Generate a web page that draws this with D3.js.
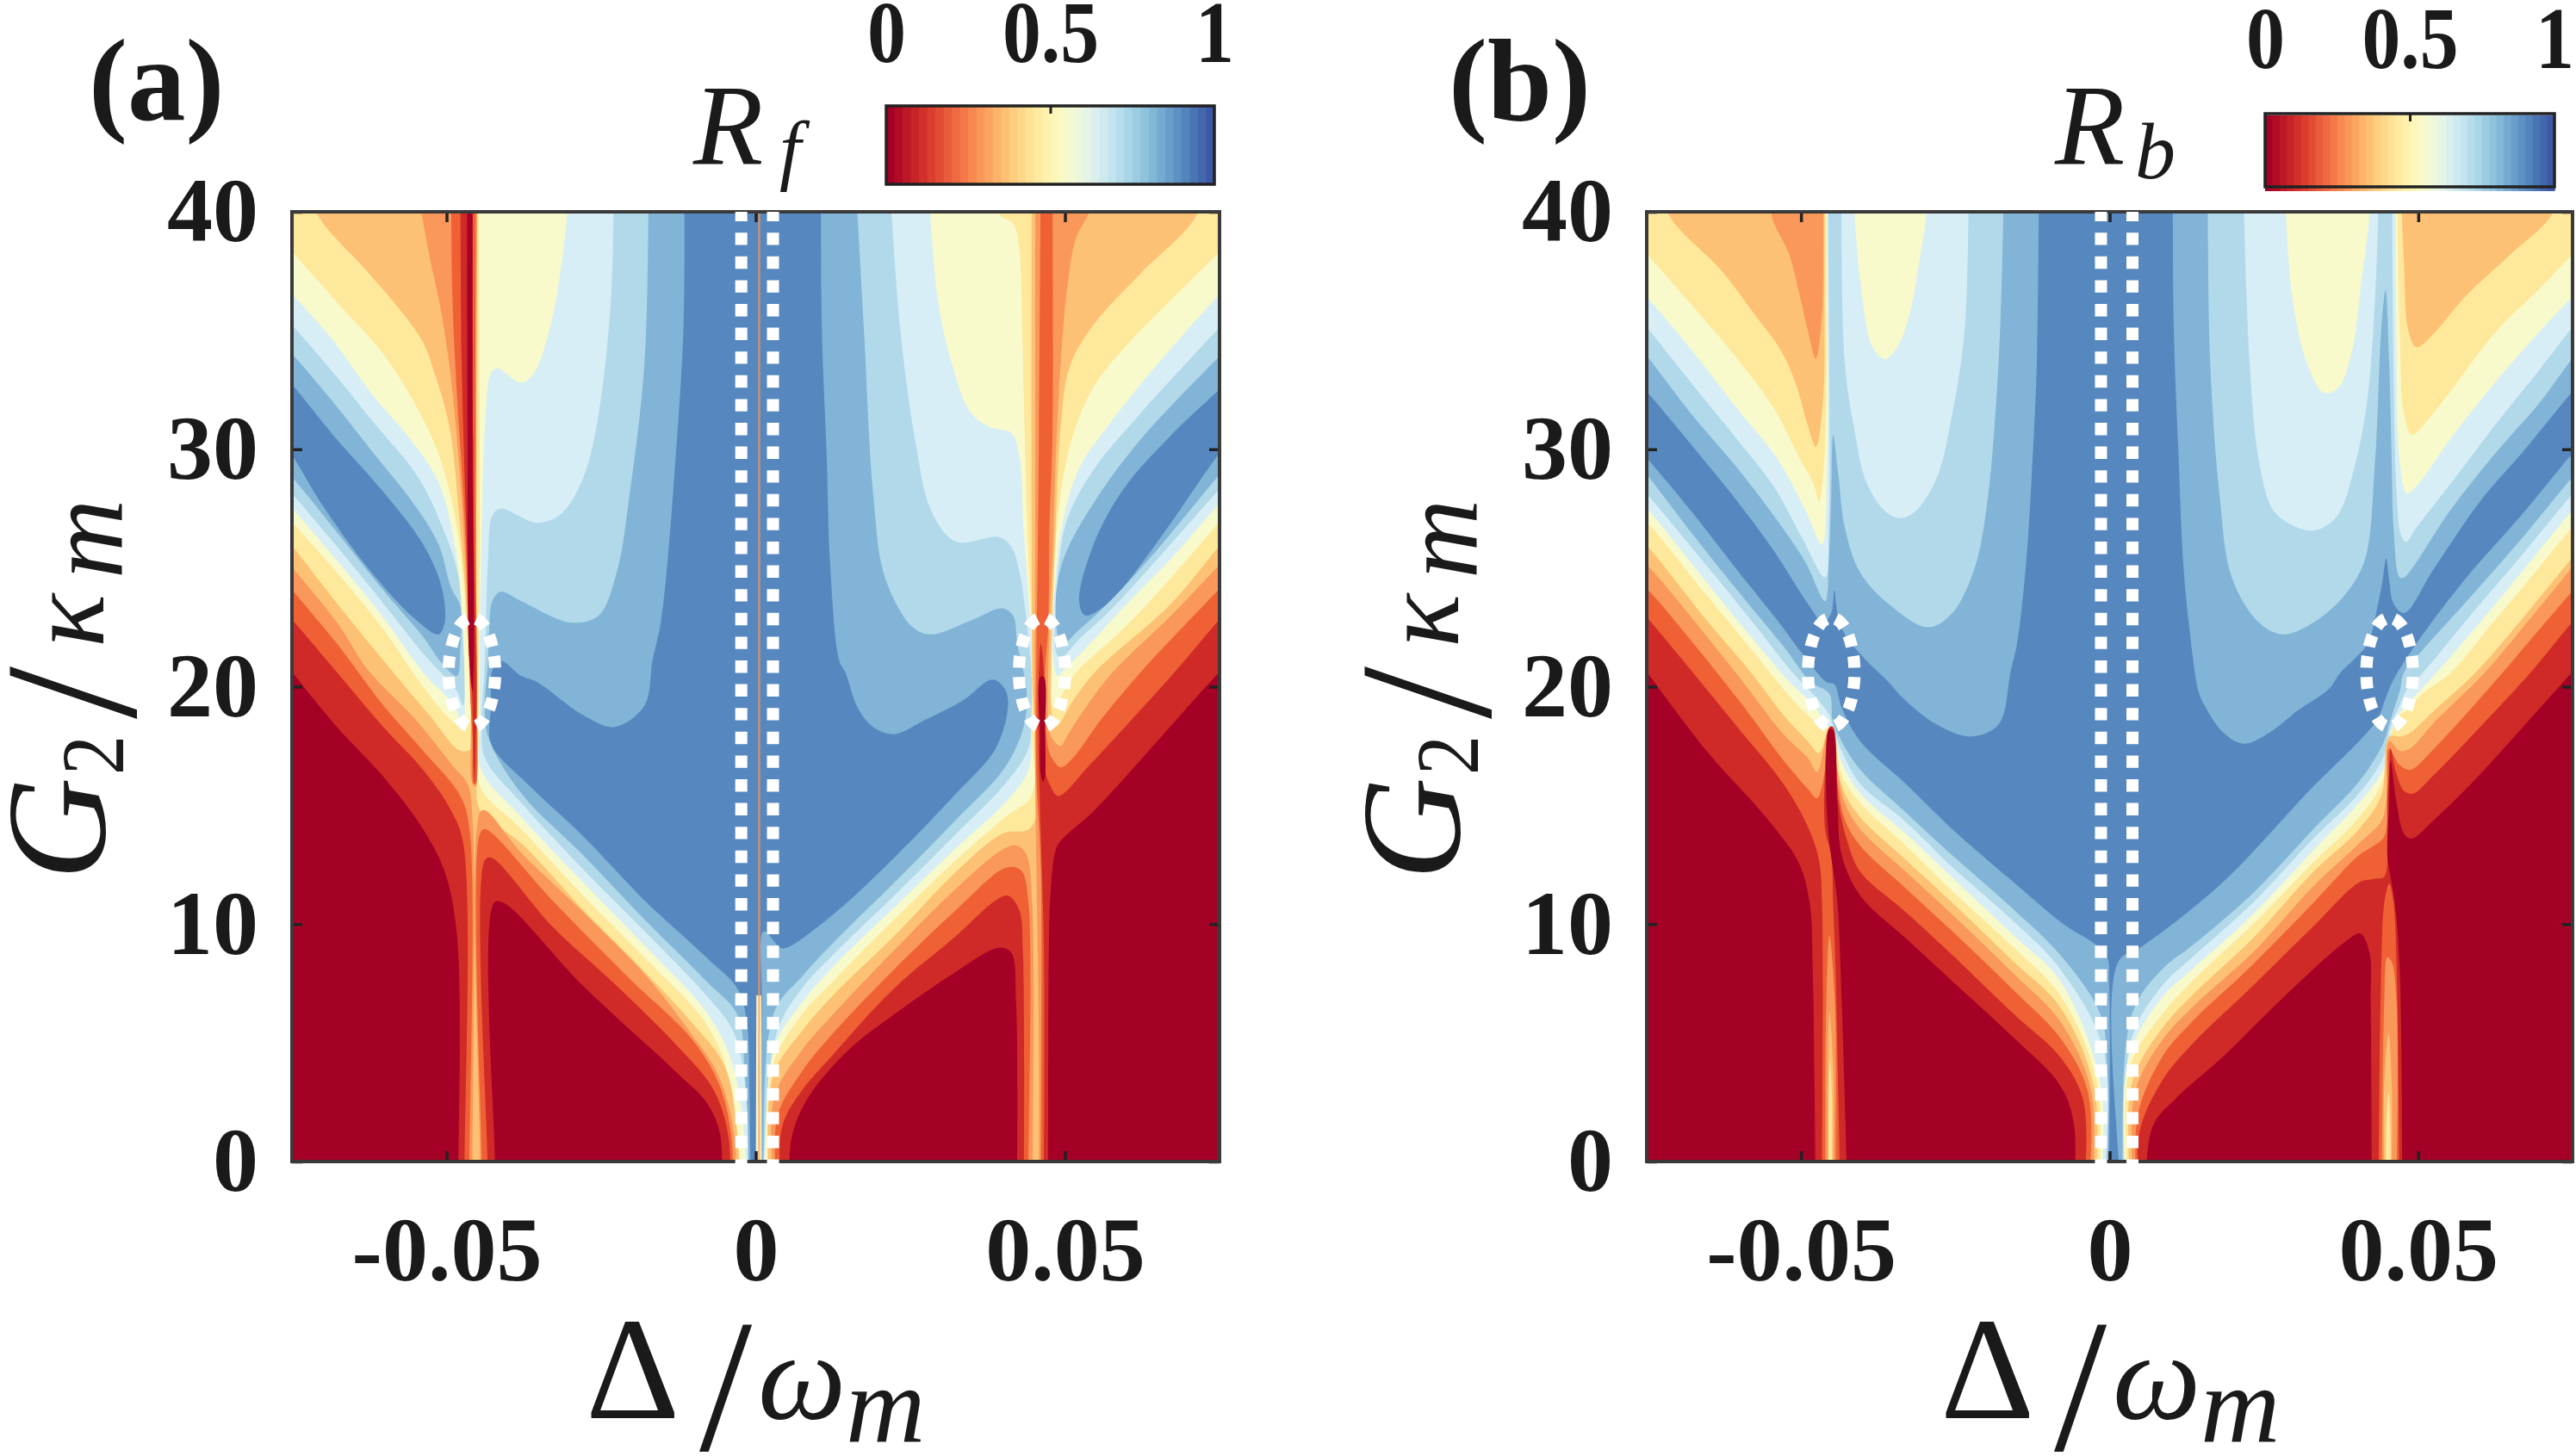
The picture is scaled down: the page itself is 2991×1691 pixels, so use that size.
<!DOCTYPE html>
<html>
<head>
<meta charset="utf-8">
<script src="https://d3js.org/d3.v7.min.js"></script>
<style>
  html, body { margin: 0; background: #fff; }
  text { font-family: "Liberation Serif", serif; fill: #1a1a1a; }
</style>
</head>
<body>
<div id="chart"></div>
<script>
// contour colours, index = level (0 = lowest R, 10 = highest R)
const levelColors = ["#a50026", "#cf2a27", "#ef6035", "#f9985a", "#fcc174", "#fee89b", "#f8facb", "#d8eef6", "#b2d9ea", "#81b4d6", "#5688bf"];

// axis values, Delta/omega_m is kept in units of 1e-3
const deltaDomain = [-75, 75];
const gDomain = [0, 40];
const deltaTicks = [-50, 0, 50];
const deltaTickLabels = ["-0.05", "0", "0.05"];
const gTicks = [0, 10, 20, 30, 40];
const gTickLabels = ["0", "10", "20", "30", "40"];
const barTicks = [0, 0.5, 1];
const barTickLabels = ["0", "0.5", "1"];

// dashed guides: [delta, G, rDelta, rG]
const guideLinesA = [-2.34, 2.79];
const guideLinesB = [-1.4, 3.7];
const guideEllipsesA = [[-45.9, 20.6, 3.77, 2.3], [46.3, 20.6, 3.75, 2.3]];
const guideEllipsesB = [[-45.1, 20.6, 3.77, 2.3], [45.36, 20.6, 3.77, 2.3]];

// ---- panel (a), contour outlines as [delta, G], left half ----
const aL9 = [[-76,42],[-11.5,42],[-11.7,35],[-13,29.5],[-14.5,24.6],[-15.5,22.5],[-16.7,21.1],[-18,19.2],[-22.9,18.3],[-27.9,18.8],[-35.4,20.2],[-37.9,20.45],[-41.3,21.1],[-42.6,20.7],[-42.8,19.2],[-42.8,17.6],[-36.9,15.9],[-27.9,13.7],[-18,11],[-8,8.6],[-3,7.3],[-1.5,6],[-1,2.6],[-0.8,-2],[-76,-2]];
const aLLobe = [[-76,33],[-74.9,32.7],[-67.7,30.4],[-60.2,28.2],[-53.8,26],[-50.8,24.2],[-50.3,22.7],[-51.3,22.2],[-55.3,22.9],[-62.7,25],[-70.2,27.7],[-74.9,29.7],[-76,30]];
const aL8 = [[-76,42],[-17.2,42],[-18,33.6],[-20.4,28.1],[-22.4,24.9],[-25.4,23],[-29.9,22.7],[-37.9,23.6],[-41.3,24],[-42.6,23.6],[-43.1,22.5],[-43.3,21.1],[-43.8,19.2],[-43.3,17.9],[-37.9,15.5],[-27.9,12.9],[-18,10.2],[-8,7.6],[-3,6.2],[-1.8,4],[-1,-2],[-76,-2],[-76,29.1],[-74.9,28.8],[-67.7,26.5],[-60.2,24.05],[-53.8,22.1],[-50.8,21],[-48.3,20.45],[-47.8,21.5],[-47.8,23.4],[-49.3,24.2],[-51.3,26],[-55.3,27.7],[-61.7,29.8],[-68.7,32.1],[-74.9,34],[-76,34.3]];
const aL7 = [[-76,42],[-22.9,42],[-23.4,36.4],[-25.4,31.5],[-27.9,28.8],[-31.4,27.3],[-35.4,26.9],[-41.3,27.5],[-42.6,27.2],[-43.3,25.3],[-43.8,21.1],[-44.3,18.5],[-43.8,17],[-37.9,15.1],[-27.9,12.3],[-18,9.7],[-8,7],[-3.5,5.4],[-1.5,2.6],[-1.3,-2],[-76,-2],[-76,28.4],[-74.9,28.1],[-67.7,25.9],[-60.2,23.5],[-53.8,21.4],[-48.3,19.8],[-47.3,19.2],[-47.8,24.3],[-50.8,26.8],[-54.8,28.9],[-61.7,31.1],[-69.2,33.5],[-74.9,35.2],[-76,35.5]];
const aL6 = [[-76,42],[-29.7,42],[-31.4,37.8],[-33.4,35],[-35.9,33.2],[-37.9,32.8],[-41.8,33.4],[-42.8,33.2],[-43.8,30.9],[-44.3,26.7],[-44.6,22.5],[-44.6,18.5],[-44.4,16.5],[-37.9,14.5],[-27.9,11.75],[-18,9.1],[-8,6.3],[-4,4.3],[-1.9,1.2],[-1.5,-2],[-76,-2],[-76,27.8],[-74.9,27.5],[-67.7,25.3],[-60.2,22.9],[-53.8,20.6],[-48.8,19.2],[-47.3,18.3],[-47.05,19.2],[-48.3,25.3],[-51.3,28.6],[-55.8,30.4],[-61.7,32.2],[-68.7,34.7],[-74.9,36.5],[-76,36.8]];
const aL5 = [[-76,42],[-44.8,42],[-44.6,26.7],[-44.8,19.8],[-44.8,17.9],[-44.6,15.8],[-37.9,14],[-27.9,11.2],[-18,8.6],[-8,5.8],[-4.5,3.7],[-2.5,0],[-2,-2],[-76,-2],[-76,27.2],[-74.9,26.9],[-67.7,24.8],[-60.2,22.4],[-53.8,20],[-48.8,18.5],[-46.8,18.3],[-46.8,22.5],[-48.3,26.7],[-51.3,29.8],[-55.3,32],[-60.2,34],[-66.7,35.9],[-74.9,38.3],[-76,38.6]];
const aL4 = [[-73,42],[-45.2,42],[-45.3,26.7],[-45.3,19.2],[-45.05,16.5],[-44.6,14.8],[-37.9,13.4],[-27.9,10.6],[-18,8],[-10.5,5.9],[-5,4],[-3,1.2],[-2.5,-2],[-76,-2],[-76,26.2],[-74.9,25.9],[-67.7,23.5],[-60.2,21.1],[-52.8,18.8],[-47.8,17.3],[-46.05,17.4],[-46.6,22.5],[-47.8,26.7],[-49.5,30.9],[-51.8,33.1],[-53.8,34.5],[-57.3,35.8],[-63.2,37.6],[-70.9,39.9]];
const aL3Top = [[-55.5,42],[-52.8,38.2],[-50.8,35.7],[-49.3,33],[-47.8,28.8],[-46.6,23.2],[-46.05,19.2],[-45.8,15.9],[-45.3,15.8],[-45.3,17.9],[-45.2,26.7],[-45.05,39.9],[-45.05,42]];
const aL3Low = [[-45.8,-2],[-45.8,14.4],[-46.6,15.9],[-48.8,16.6],[-55.3,18.7],[-62.7,20.7],[-67.7,22.7],[-74.9,25],[-76,25.3],[-76,-2]];
const aL3Right = [[-44.6,-2],[-44.6,14.7],[-43.8,14.8],[-37.9,13],[-27.9,10.5],[-18,7.9],[-10.5,5.4],[-6,3.6],[-3.5,1.2],[-3,-2]];
const aL2Top = [[-49.3,42],[-49.05,36.4],[-48.3,32.2],[-47.3,28.1],[-46.6,23.9],[-46.2,19.8],[-45.8,17.9],[-45.6,15.9],[-45.3,15.9],[-45.05,19.2],[-45.3,26.7],[-45.3,39.9],[-45.3,42]];
const aL2Low = [[-46.3,-2],[-46.3,14],[-47.8,15.4],[-53.8,17.3],[-60.2,19.2],[-67.7,21.8],[-74.9,24.05],[-76,24.4],[-76,-2]];
const aL2Right = [[-44.3,-2],[-44.6,13.8],[-43.8,14],[-32.9,11],[-20.4,7.7],[-10.5,5.2],[-6,3.3],[-4,1.2],[-3.5,-2]];
const aL1Top = [[-47.8,42],[-47.55,33.6],[-46.8,26.7],[-46.2,22.5],[-45.8,19.2],[-45.6,16.5],[-45.45,15.9],[-45.2,19.2],[-45.3,22.5],[-45.6,26.7],[-45.8,42]];
const aL1Low = [[-47.05,-2],[-47.3,13.4],[-49.3,14.8],[-53.8,16.5],[-60.2,18.3],[-67.7,20.6],[-74.9,22.8],[-76,23.1],[-76,-2]];
const aL1Right = [[-43.3,-2],[-43.8,12.7],[-42.8,12.8],[-32.9,9.9],[-22.9,7.5],[-13,4.95],[-7,3.1],[-4.5,1.2],[-4,-2]];
const aL0Top = [[-46.7,42],[-46.6,30.9],[-46.3,21.1],[-45.8,19.8],[-45.6,21.1],[-45.8,30.9],[-45.8,42]];
const aL0Low = [[-48.05,-2],[-48.3,9.5],[-50.3,12.2],[-53.8,14],[-60.2,16.2],[-67.7,18.3],[-74.9,20.6],[-76,21],[-76,-2]];
const aL0Right = [[-42.1,-2],[-42.3,10.9],[-40.8,10.9],[-27.9,7.4],[-13,3.8],[-8,2.5],[-5.8,1.2],[-5.5,-2]];

// panel (a), right half
const aR9 = [[76,42],[10.5,42],[10.7,35],[11.5,29.5],[12,25.3],[13.5,21.1],[14.5,20.6],[16.5,19.1],[19,18.3],[22.4,18],[27.4,18.6],[33.4,19.4],[38.3,20.3],[40.3,19.9],[40.8,19.2],[38.8,17.4],[32.4,15.5],[22.4,12.8],[12.5,10.4],[5,9],[4,9],[1.3,9.7],[1,6.7],[1,-2],[76,-2]];
const aRLobe = [[76,32.8],[74.9,32.5],[67.2,30.6],[59.7,28.4],[54.8,26.1],[52.3,23.6],[53.3,23],[57.3,23.6],[64.7,26],[74.9,29.8],[76,30.1]];
const aR8 = [[76,42],[16,42],[17.5,35],[19,28.1],[20.9,24.6],[25.4,22.5],[28.4,22.2],[34.9,22.8],[39.8,23.3],[41.6,23],[42.3,21.8],[43.8,19.8],[43.3,18.3],[40.3,16.6],[32.4,14.4],[22.4,11.75],[12.5,9.2],[7.5,7.8],[3,6.3],[1.2,0],[1.2,-2],[76,-2],[76,29.2],[74.9,28.9],[64.7,25.7],[57.3,23.6],[52.3,22.4],[49.5,21.8],[48.5,23.5],[49.8,25.4],[54.8,27.8],[62.2,30.4],[74.9,33.9],[76,34.2]];
const aR7 = [[76,42],[21.4,42],[23.4,35],[25.9,30.2],[28.4,27.4],[32.4,26.1],[39.3,26.3],[41.3,25.9],[42.6,24.9],[43.6,23.2],[44.6,20.45],[44.6,19.2],[44.1,17.4],[40.3,15.9],[32.4,13.8],[22.4,11.2],[12.5,8.7],[7.5,7.3],[3.5,5.5],[1.3,0],[1.3,-2],[76,-2],[76,28.6],[74.9,28.3],[64.7,25.3],[57.3,23.2],[52.3,22],[49.8,21.3],[48.8,21.3],[48.4,23],[48.8,24.6],[50.3,27],[54.8,29.2],[62.2,31.5],[74.9,35.1],[76,35.4]];
const aR6 = [[76,42],[27.65,42],[29.4,36.4],[31.4,33.9],[34.9,31.5],[38.3,30.9],[41.3,30.7],[42.6,29.8],[43.3,26.7],[44.1,23.9],[44.6,21.8],[44.6,18.6],[44.1,16.5],[40.3,15.1],[32.4,13.2],[22.4,10.7],[12.5,8.2],[7.5,6.7],[3,4.8],[1.5,0],[1.5,-2],[76,-2],[76,28],[74.9,27.7],[67.2,25.4],[59.7,23.4],[53.3,21.6],[49.8,20.7],[48.8,20.45],[48,21.4],[48.3,23.9],[49.5,26.7],[52.3,29.2],[57.3,31.1],[64.7,33.5],[74.9,36.5],[76,36.8]];
const aR5 = [[76,42],[39.3,42],[39.4,39.9],[41.6,39.5],[42.6,38.5],[43.1,35],[43.6,29.5],[44.1,25.3],[44.6,22.5],[44.7,18],[44.6,15.4],[40.3,14.5],[32.4,12.7],[22.4,10.2],[12.5,7.6],[7.5,6.2],[2.8,4.1],[1.8,0],[1.8,-2],[76,-2],[76,27.2],[74.9,26.9],[67.2,24.6],[59.7,22.5],[51.8,20.6],[49.8,19.8],[48.5,19.1],[48,19.2],[47.8,21],[48.3,25.3],[49.3,28.1],[51.3,30.6],[54.8,32.7],[59.7,34.3],[67.2,36.3],[74.9,38.3],[76,38.6]];
const aR4 = [[73,42],[71.4,39.9],[62.2,37.4],[54.8,35.3],[50.8,33.5],[49.3,30.9],[48.5,26.7],[48,23.2],[47.8,20.9],[47.9,18.8],[48.5,18.3],[49.3,18.5],[50.8,19.2],[54.8,20.6],[67.2,23.5],[74.9,25.9],[76,26.2],[76,-2],[2,-2],[2.8,3.6],[7.5,5.5],[12.5,7],[22.4,9.5],[32.4,12.2],[39.8,13.8],[44.6,14.1],[44.7,20.6],[44.6,26.7],[44.6,42]];
const aR3Main = [[45.2,42],[45.2,26.7],[45.1,20.6],[45.2,16.2],[45.4,12.3],[45.8,5],[45.8,-2],[76,-2],[76,25.4],[74.9,25.1],[67.2,23],[57.7,20.6],[53.3,19.1],[50.3,17.9],[49.3,17.5],[48,17.8],[47.4,18.3],[47.5,22.5],[48,25.3],[48.5,29.5],[49.3,33.6],[50.5,37.1],[51.8,38.9],[53.8,39.9],[57,42]];
const aR3Low = [[44.8,-2],[44.7,10.9],[43.8,12.9],[42.3,13.3],[40.3,13.2],[32.4,11.5],[22.4,8.9],[12.5,6.2],[7.5,4.7],[3,2.7],[3,-2]];
const aR2Main = [[46.1,42],[45.8,30.9],[45.6,25.3],[45.3,19.2],[45.4,16.2],[46.1,12.3],[46.1,-2],[76,-2],[76,24.4],[74.9,24.1],[67.2,22],[62.2,20.6],[55.8,18.6],[51.3,17],[49.3,16.6],[48,16.95],[47.3,17.4],[46.8,20.6],[47.3,22.5],[47.5,26.7],[48,30.9],[48,42]];
const aR2Low = [[44.1,-2],[44.1,10.9],[43.1,12.2],[41.8,12.4],[39.8,12.3],[32.4,10.6],[22.4,8.1],[12.5,5.4],[7.5,3.8],[3.5,1.9],[3.5,-2]];
const aR1Main = [[46.6,-2],[46.6,9],[46.1,13.7],[45.7,17.9],[45.7,19.9],[46.1,21.8],[46.6,20.6],[46.8,16.5],[47.5,15.9],[48.8,15.4],[49.8,15.5],[53.3,16.5],[59.7,18.3],[67.7,20.6],[74.9,22.8],[76,23.1],[76,-2]];
const aR1Low = [[43.4,-2],[43.2,8.8],[42.6,10.6],[40.8,11.2],[38.8,11],[32.4,9.5],[22.4,7.3],[12.5,4.5],[7.5,3],[4.3,1.5],[4,-2]];
const aR0Core = [[46,20.4],[46.6,20.4],[46.8,18],[46.8,16.3],[46.5,16],[46.1,16.3],[46,18]];
const aR0Main = [[47.3,-2],[47.3,5],[47.4,9],[47.6,11],[48.3,12.9],[49,13.4],[54.8,14.8],[62.2,16.9],[69.7,19.1],[74.9,20.6],[76,20.9],[76,-2]];
const aR0Low = [[42.3,-2],[42.1,6.7],[41.3,8.8],[39.3,9],[32.4,8],[22.4,6.2],[15,4.7],[8.5,2.7],[5.8,1],[5.5,-2]];

// ---- panel (b), left half ----
const bL9Top = [[-76,42],[-11.4,42],[-11.8,33.6],[-12.5,29.5],[-13.5,25.3],[-15,21.8],[-16,20.7],[-18,18.4],[-22.5,17.9],[-28,18.4],[-33,19.4],[-36.4,20.35],[-39.4,21.1],[-42.9,22.2],[-44.1,23.1],[-44.6,24.05],[-45.1,23.1],[-46.4,22.7],[-48.9,23.5],[-54.35,25.7],[-60.3,27.8],[-67.8,30.2],[-74.9,32.4],[-76,32.7]];
const bL9Low = [[-76,29.9],[-74.9,29.6],[-67.8,27.4],[-60.3,24.9],[-53.85,22.8],[-50.4,21.6],[-45.9,20.2],[-44.6,20.1],[-43.4,19.1],[-40.4,17.7],[-33,15.9],[-25.5,14],[-15.5,11.75],[-8,10.1],[-0.6,8.7],[-0.1,7.5],[-0.1,-2],[-76,-2]];
const bL8Top = [[-76,42],[-17,42],[-18,33.6],[-20,27.4],[-22,24.9],[-25.5,23.1],[-29.4,22.5],[-35.4,23.4],[-40.4,24.8],[-42.9,26.7],[-43.9,28.8],[-44.8,30.6],[-45.1,28.1],[-45.5,25.3],[-46.1,23.6],[-49.4,25.3],[-53.85,27],[-60.3,29.2],[-67.8,31.5],[-74.9,33.9],[-76,34.2]];
const bL8Low = [[-76,29.2],[-74.9,28.9],[-67.8,26.5],[-60.3,24.05],[-52.85,21.7],[-48.4,20.2],[-45.4,19.7],[-44.9,18.6],[-43.4,17.7],[-40.4,16.5],[-33,14.7],[-25.5,12.9],[-15.5,10.6],[-8,8.7],[-1.5,6.2],[-0.4,4],[-0.4,-2],[-76,-2]];
const bL7Fan = [[-76,42],[-45.6,42],[-45.5,26.7],[-46.1,24.6],[-49.9,26.3],[-54.35,28.4],[-60.3,30.4],[-67.8,32.8],[-74.9,35.1],[-76,35.4]];
const bL7Tongue = [[-43.6,42],[-42.9,33.6],[-41.4,30.9],[-39.4,28.6],[-36.4,27.4],[-33.9,27.1],[-31.4,27.4],[-28,28.8],[-25.5,31.5],[-23.5,35],[-22.7,42]];
const bL7Low = [[-76,28.4],[-74.9,28.1],[-65.3,25.1],[-57.8,22.7],[-51.4,20.6],[-47.4,19.5],[-45.4,18.8],[-44.8,18.3],[-43.4,17.3],[-40.4,15.9],[-33,14.3],[-25.5,12.4],[-15.5,10.1],[-8,8.1],[-1,4.7],[-0.8,-2],[-76,-2]];
const bL6Fan = [[-76,42],[-45.8,42],[-45.8,28.8],[-46.6,26],[-49.4,27.5],[-53.85,29.6],[-60.3,31.7],[-67.8,34.2],[-74.9,36.4],[-76,36.7]];
const bL6Tongue = [[-41.9,42],[-40.4,37.1],[-38.4,34.3],[-36.4,33.8],[-34.4,34.3],[-32.4,35.7],[-30.9,37.8],[-29.7,39.9],[-29.3,42]];
const bL6Low = [[-76,27.8],[-74.9,27.5],[-65.3,24.4],[-57.8,22],[-51.9,20.2],[-47.9,19.2],[-45.9,18.4],[-44.8,18.1],[-43.4,16.8],[-40.4,15.5],[-33,13.8],[-25.5,11.96],[-15.5,9.5],[-8,7.6],[-1.5,3.3],[-1.3,-2],[-76,-2]];
const bL5Fan = [[-76,42],[-45.9,42],[-46.1,30.2],[-47.1,27.8],[-47.9,28.5],[-50.4,29.7],[-54.35,31.7],[-60.3,33.8],[-67.8,36.1],[-74.9,38.2],[-76,38.5]];
const bL5Low = [[-76,27.1],[-74.9,26.9],[-65.3,23.85],[-57.8,21.5],[-52.85,19.9],[-48.9,18.8],[-46.4,18.3],[-44.8,18.1],[-43.4,16.3],[-40.4,15.1],[-33,13.3],[-25.5,11.4],[-15.5,9],[-8,7],[-2,3.3],[-1.8,-2],[-76,-2]];
const bL4Fan = [[-73.5,42],[-71.5,39.9],[-62.8,37.5],[-57.3,35.6],[-53.35,34.2],[-50.9,32.8],[-48.9,31],[-47.6,30.1],[-46.4,32.2],[-46.2,36.4],[-46.2,42]];
const bL4Low = [[-76,26.1],[-74.9,25.9],[-65.3,22.8],[-57.8,20.5],[-52.85,18.8],[-48.9,17.7],[-47.1,17.2],[-45.9,18],[-45.2,18.3],[-44.9,18.1],[-44.4,16.9],[-42.9,15.5],[-40.4,14.5],[-33,12.7],[-25.5,10.9],[-15.5,8.4],[-8,6.5],[-2.5,3.1],[-2.3,-2],[-45,-2],[-45,2.6],[-45.3,4.3],[-45.5,2.6],[-45.5,-2],[-76,-2]];
const bL3Fan = [[-54.85,42],[-54.85,39.9],[-51.9,38.2],[-50.4,36.7],[-48.9,35],[-47.6,33.8],[-46.6,35.7],[-46.4,37.8],[-46.4,42]];
const bL3Low = [[-76,25.3],[-74.9,25.1],[-60.3,20.5],[-52.85,18],[-48.9,17],[-47.4,16.4],[-45.9,17.9],[-45.2,18.3],[-45,18.2],[-44.1,16.5],[-42.9,15.1],[-40.4,14],[-33,12.2],[-25.5,10.4],[-15.5,7.9],[-8,5.9],[-3,3],[-2.8,-2],[-44.8,-2],[-44.8,4],[-45.4,6.3],[-45.6,4],[-45.6,-2],[-76,-2]];
const bL2Low = [[-76,24.3],[-74.9,24.1],[-60.3,19.5],[-52.85,16.9],[-48.9,15.7],[-47.4,15.3],[-46.1,16.5],[-45.4,18.2],[-45,18.2],[-44.1,16],[-42.9,14.4],[-40.4,13.3],[-33,11.5],[-25.5,9.7],[-15.5,7.2],[-8,5.2],[-3.5,2.9],[-3.3,-2],[-44.4,-2],[-44.5,6.7],[-45.4,9.5],[-45.9,6.7],[-46.1,-2],[-76,-2]];
const bL1Left = [[-76,23.2],[-74.9,22.9],[-60.3,18.3],[-52.85,15.9],[-48.9,14.1],[-47.1,12.7],[-46.6,10.9],[-46.6,-2],[-76,-2]];
const bL1Core = [[-43.6,-2],[-44.4,8.1],[-44.8,10.9],[-45.1,12.9],[-46.1,14],[-46.1,16.5],[-45.4,18.3],[-44.8,18.3],[-43.9,15.1],[-42.4,13.4],[-40.4,12.2],[-33,10.5],[-25.5,8.7],[-15.5,6.2],[-8,4.4],[-4.3,2.6],[-4,-2]];
const bL0Left = [[-76,21],[-74.9,20.6],[-65.3,17.3],[-55.35,14.4],[-50.4,12.6],[-48.6,10.9],[-48.1,8.1],[-47.6,-2],[-76,-2]];
const bL0Core = [[-42.4,-2],[-43.4,6.7],[-44.1,10.9],[-44.8,12.3],[-45.4,13.4],[-45.9,15.1],[-45.9,17.2],[-45.5,18.2],[-44.9,18.2],[-44.1,15.1],[-43.4,12.9],[-40.4,11.2],[-33,9.4],[-25.5,7.6],[-15.5,5.2],[-8,3.2],[-5.8,1.6],[-5.8,-2]];

// panel (b), right half
const bR9Top = [[76,42],[10.2,42],[10.4,35],[11.2,29.5],[11.9,25.3],[12.9,22.5],[14.4,19.8],[15.4,19.2],[18.3,18.1],[21.7,17.6],[26.1,18.1],[30.5,19],[35.5,19.9],[37.4,20.6],[39.4,21.1],[41.8,21.8],[43.5,23.5],[44.3,24.6],[44.8,25.4],[45.3,24.5],[46,23.5],[47.7,23.1],[52.6,25],[60,27.8],[67.3,30],[74.9,32.4],[76,32.7]];
const bR9Low = [[1.6,-2],[1.4,8.4],[5.5,9.1],[18.3,11.75],[33,15.8],[40.4,17.7],[43.3,18.6],[45,19.7],[46,20.3],[50.2,22],[57.5,24.5],[67.3,27.4],[74.9,29.8],[76,30.1],[76,-2]];
const bR8Top = [[76,42],[15.8,42],[16.3,33.6],[17.8,28.1],[19.8,24.6],[24.2,22.7],[28.1,22.2],[33,22.7],[37.9,23.8],[41.3,25.3],[43,29.5],[44,35],[44.7,36.7],[45.3,33.6],[45.7,29.5],[46,26.7],[47,24.6],[47.7,24.6],[55.1,27.4],[62.4,29.8],[69.8,32],[74.9,33.8],[76,34.1]];
const bR8Low = [[1.8,-2],[3.6,6.2],[8.5,8.1],[13.4,9.1],[23.2,11.3],[33,14],[40.4,16],[44.3,17.6],[45.3,18.4],[46,19],[47,19.8],[47.7,20.6],[50.2,21.4],[57.5,23.5],[67.3,26.4],[74.9,28.8],[76,29.1],[76,-2]];
const bR7Tongue = [[21.5,42],[22.7,33.6],[24.2,29.5],[26.6,27.4],[30.5,26.7],[33.5,26.6],[36.9,27.2],[39.9,29.5],[41.8,32.2],[43,36.4],[43.5,39.9],[43.5,42]];
const bR7Fan = [[76,42],[45.7,42],[46,33.6],[46.5,28.1],[47.2,26.4],[48,26.1],[49.7,26.7],[55.1,28.5],[62.4,31],[69.8,33.4],[74.9,35.1],[76,35.4]];
const bR7Low = [[2.1,-2],[3.6,5.2],[8.5,7.4],[13.4,8.6],[23.2,10.9],[33,13.6],[40.4,15.5],[44.3,17],[45.5,18.3],[47,19.2],[48.2,19.9],[50.8,20.6],[57.5,22.7],[67.3,25.7],[74.9,28.1],[76,28.4],[76,-2]];
const bR6Tongue = [[28.1,42],[29.6,36.4],[32,33.6],[34.5,32.4],[36,32.4],[37.4,32.7],[39.4,34.3],[40.8,37.1],[42.1,39.9],[42.1,42]];
const bR6Fan = [[76,42],[46.3,42],[46.5,33.6],[47,29.5],[48.2,28.15],[50.2,28.6],[55.1,30.4],[62.4,32.8],[69.8,35],[74.9,36.4],[76,36.7]];
const bR6Low = [[2.4,-2],[3.1,4.4],[8.5,6.9],[13.4,8.1],[23.2,10.4],[33,13.1],[40.4,15.1],[44.3,16.5],[45.5,18],[47,18.9],[48.7,19.4],[53,20.6],[60,22.7],[67.3,25],[74.9,27.4],[76,27.7],[76,-2]];
const bR5Fan = [[76,42],[46.5,42],[47,35],[47.7,31.5],[49,30.6],[51.1,31.1],[55.1,32.4],[62.4,34.9],[69.8,36.8],[74.9,38.2],[76,38.5]];
const bR5Low = [[2.8,-2],[3.3,4],[8.5,6.2],[13.4,7.6],[23.2,10],[33,12.6],[40.4,14.5],[44,15.9],[45.5,17.9],[47,18.8],[48.2,19],[50.7,19.7],[55.3,20.6],[62.4,22.8],[67.3,24.3],[74.9,26.7],[76,27],[76,-2]];
const bR4Fan = [[47,42],[47.7,37.8],[48.4,35],[49.7,34.3],[52.6,34.9],[57.5,36.4],[64.9,38.2],[71.7,39.9],[74,42]];
const bR4Low = [[3.3,-2],[3.6,3.3],[8.5,5.6],[13.4,7],[23.2,9.4],[33,12.2],[40.4,14],[44,15.4],[45.3,17.9],[47.2,17.9],[48.9,18.1],[52.6,19],[59.3,20.6],[67.3,23],[74.9,25.4],[76,25.7],[76,-2],[45.5,-2],[45.5,1.2],[45.2,2.9],[44.8,1.2],[44.8,-2]];
const bR3Low = [[3.8,-2],[4.1,2.9],[8.5,5.1],[13.4,6.5],[23.2,8.8],[33,11.6],[40.4,13.4],[44.3,14.5],[45.3,17.7],[47,17.3],[48.7,17.4],[52.6,18.5],[60.8,20.6],[67.3,22.6],[74.9,25],[76,25.3],[76,-2],[45.7,-2],[45.7,3.3],[45.2,5.4],[44.5,3.3],[44.5,-2]];
const bR2Low = [[4.3,-2],[4.6,2],[8.5,4.4],[13.4,5.9],[23.2,8.3],[33,10.9],[40.4,12.9],[42.8,13.3],[44.5,13.7],[45,15.8],[45.3,17.4],[47,16.7],[48.7,16.5],[52.6,17.4],[63.7,20.6],[67.3,21.7],[74.9,24],[76,24.3],[76,-2],[46.5,-2],[46.5,6.7],[45.7,8.4],[45,8.6],[44.5,6.7],[44,-2]];
const bR1Low = [[5,-2],[4.8,1.2],[8.5,3.4],[13.4,4.95],[23.2,7.4],[33,9.9],[40.4,11.75],[42.8,11.9],[44.5,12],[45,13.7],[45,15.1],[45.3,16.5],[45.5,17.4],[46.5,16.3],[47.7,15.6],[49.2,15.5],[52.6,16.3],[60,18.3],[68.2,20.6],[74.9,22.7],[76,23],[76,-2],[47,-2],[46.5,8.1],[46,10.9],[45.3,11.7],[44.5,10.9],[44,8.1],[43.5,-2]];
const bR0Left = [[5.5,-2],[7,1.5],[10.9,2.7],[18.3,4.4],[28.1,6.9],[37.9,9.2],[40.6,9.6],[42.1,8.8],[42.3,6.7],[42.5,-2]];
const bR0Right = [[47.5,-2],[47,8.1],[46.2,10.9],[45.5,12],[45,12.9],[45.3,15.1],[45.5,16.9],[46.5,15.1],[47.7,13.8],[48.9,13.6],[52.6,14.4],[60,16.3],[67.3,18.4],[74.9,20.6],[76,20.9],[76,-2]];

// thin feature at delta = 0 in panel (a), drawn with straight edges
const aCentreLow = [[0.1,7],[0.9,7],[1,-2],[0,-2]];
const aCentreLine = [[0.35,42],[0.75,42],[0.75,-2],[0.35,-2]];

// paint order: [level, outline], high R first so lower levels lie on top
const layersA = [
  [9,aL9],[10,aLLobe],[8,aL8],[7,aL7],[6,aL6],[5,aL5],[4,aL4],[3,aL3Top],[3,aL3Low],[3,aL3Right],[2,aL2Top],[2,aL2Low],[2,aL2Right],[1,aL1Top],[1,aL1Low],[1,aL1Right],[0,aL0Top],[0,aL0Low],[0,aL0Right],
  [9,aR9],[10,aRLobe],[8,aR8],[7,aR7],[6,aR6],[5,aR5],[4,aR4],[3,aR3Main],[3,aR3Low],[2,aR2Main],[2,aR2Low],[1,aR1Main],[1,aR1Low],[0,aR0Core],[0,aR0Main],[0,aR0Low]
];
const layersB = [
  [9,bL9Top],[9,bL9Low],[8,bL8Top],[8,bL8Low],[7,bL7Fan],[7,bL7Tongue],[7,bL7Low],[6,bL6Fan],[6,bL6Tongue],[6,bL6Low],[5,bL5Fan],[5,bL5Low],[4,bL4Fan],[4,bL4Low],[3,bL3Fan],[3,bL3Low],[2,bL2Low],[1,bL1Left],[1,bL1Core],[0,bL0Left],[0,bL0Core],
  [9,bR9Top],[9,bR9Low],[8,bR8Top],[8,bR8Low],[7,bR7Tongue],[7,bR7Fan],[7,bR7Low],[6,bR6Tongue],[6,bR6Fan],[6,bR6Low],[5,bR5Fan],[5,bR5Low],[4,bR4Fan],[4,bR4Low],[3,bR3Low],[2,bR2Low],[1,bR1Low],[0,bR0Left],[0,bR0Right]
];

const serif = '"Liberation Serif", serif';
const svg = d3.select("#chart").append("svg").attr("width", 2991).attr("height", 1691).style("display", "block");
svg.append("rect").attr("width", 2991).attr("height", 1691).attr("fill", "#fff");

function addText(g, str, x, y, size, opts = {}) {
  const t = g.append("text").attr("x", x).attr("y", y).attr("font-size", size).text(str);
  t.attr("font-family", serif);
  if (opts.italic) t.attr("font-style", "italic");
  if (opts.bold) t.attr("font-weight", "bold");
  if (opts.len) t.attr("textLength", opts.len).attr("lengthAdjust", "spacingAndGlyphs");
  return t;
}

// the spline would swing wide at the corners outside the frame, so pin it with
// an extra point on each side of those corners
function pinCorners(pts) {
  const n = pts.length;
  const off = d => d[1] < 0 || d[1] > 40 || Math.abs(d[0]) > 75;
  const out = [];
  pts.forEach((p, i) => {
    if (!off(p)) { out.push(p); return; }
    const a = pts[(i + n - 1) % n], b = pts[(i + 1) % n];
    const near = q => [p[0] + (q[0] - p[0]) * 0.12, p[1] + (q[1] - p[1]) * 0.12];
    out.push(near(a), p, near(b));
  });
  return out;
}

function drawPanel(p) {
  const x = d3.scaleLinear().domain(deltaDomain).range(p.xRange);
  const y = d3.scaleLinear().domain(gDomain).range([1349, 246]);
  const smooth = d3.line().x(d => x(d[0])).y(d => y(d[1])).curve(d3.curveCatmullRomClosed.alpha(0.5));
  const straight = d3.line().x(d => x(d[0])).y(d => y(d[1])).curve(d3.curveLinearClosed);

  const g = svg.append("g");
  g.append("clipPath").attr("id", p.id + "-clip").append("rect")
    .attr("x", p.xRange[0]).attr("y", 246).attr("width", p.xRange[1] - p.xRange[0]).attr("height", 1349 - 246);

  const field = g.append("g").attr("clip-path", `url(#${p.id}-clip)`);
  field.append("rect").attr("x", p.xRange[0]).attr("y", 246).attr("width", p.xRange[1] - p.xRange[0]).attr("height", 1349 - 246)
    .attr("fill", levelColors[10]);
  field.selectAll("path.band").data(p.layers).enter().append("path").attr("class", "band")
    .attr("d", d => smooth(pinCorners(d[1]))).attr("fill", d => levelColors[d[0]]);
  if (p.centre) {
    field.append("path").attr("d", straight(aCentreLow)).attr("fill", levelColors[6]);
    field.append("path").attr("d", straight(aCentreLine)).attr("fill", levelColors[3]).attr("opacity", 0.6);
  }

  // axes, ticks point inward on all four sides
  const styleAxis = a => {
    a.select(".domain").remove();
    a.selectAll("line").attr("stroke", "#222").attr("stroke-width", 3.5);
    a.selectAll("text").attr("font-family", serif).attr("font-weight", "bold").attr("font-size", 106).attr("fill", "#1f1f1f");
  };
  g.append("g").attr("transform", "translate(0,1349)")
    .call(d3.axisBottom(x).tickValues(deltaTicks).tickFormat((d, i) => deltaTickLabels[i]).tickSize(-12).tickPadding(63)).call(styleAxis);
  g.append("g").attr("transform", "translate(0,246)")
    .call(d3.axisTop(x).tickValues(deltaTicks).tickFormat("").tickSize(-12)).call(styleAxis);
  g.append("g").attr("transform", `translate(${p.xRange[0]},0)`)
    .call(d3.axisLeft(y).tickValues(gTicks).tickFormat((d, i) => gTickLabels[i]).tickSize(-12).tickPadding(39)).call(styleAxis);
  g.append("g").attr("transform", `translate(${p.xRange[1]},0)`)
    .call(d3.axisRight(y).tickValues(gTicks).tickFormat("").tickSize(-12)).call(styleAxis);

  g.append("rect").attr("x", p.xRange[0]).attr("y", 246).attr("width", p.xRange[1] - p.xRange[0]).attr("height", 1349 - 246)
    .attr("fill", "none").attr("stroke", "#3a3a3a").attr("stroke-width", 4);

  // white dashed guides
  g.selectAll("line.guide").data(p.guideLines).enter().append("line").attr("class", "guide")
    .attr("x1", d => x(d)).attr("x2", d => x(d)).attr("y1", y(40)).attr("y2", y(-0.25))
    .attr("stroke", "#fff").attr("stroke-width", 14).attr("stroke-dasharray", "14.4 13.2").attr("stroke-dashoffset", 3.4);
  g.selectAll("ellipse.guide").data(p.guideEllipses).enter().append("ellipse").attr("class", "guide")
    .attr("cx", d => x(d[0])).attr("cy", d => y(d[1]))
    .attr("rx", d => x(d[2]) - x(0)).attr("ry", d => y(0) - y(d[3]))
    .attr("fill", "none").attr("stroke", "#fff").attr("stroke-width", 14)
    .attr("pathLength", 12).attr("stroke-dasharray", "0.55 0.45").attr("stroke-dashoffset", 0.775);

  // colour bar
  const barX = d3.scaleLinear().domain([0, 1]).range(p.barRange);
  const bar = g.append("g");
  const steps = d3.range(0, 1, 1 / 40);
  bar.selectAll("rect").data(steps).enter().append("rect")
    .attr("x", d => barX(d)).attr("y", p.barTop + p.barFill[0])
    .attr("width", (p.barRange[1] - p.barRange[0]) / 40 + 0.8)
    .attr("height", p.barBottom - p.barTop + p.barFill[1])
    .attr("fill", d => d3.interpolateRdYlBu(d * 0.97));
  bar.append("rect").attr("x", p.barRange[0]).attr("y", p.barTop)
    .attr("width", p.barRange[1] - p.barRange[0]).attr("height", p.barBottom - p.barTop)
    .attr("fill", "none").attr("stroke", "#222").attr("stroke-width", 3.5);
  const barAxis = g.append("g").attr("transform", `translate(0,${p.barTop})`)
    .call(d3.axisTop(barX).tickValues(barTicks).tickFormat((d, i) => barTickLabels[i]).tickSize(-9).tickPadding(p.barPad));
  barAxis.select(".domain").remove();
  barAxis.selectAll("line").attr("stroke", "#222").attr("stroke-width", 3).attr("opacity", (d, i) => i === 1 ? 1 : 0);
  barAxis.selectAll("text").attr("font-family", serif).attr("font-weight", "bold").attr("font-size", 102).attr("fill", "#1f1f1f")
    .attr("textLength", (d, i) => i === 1 ? 112 : 45).attr("lengthAdjust", "spacingAndGlyphs");

  // panel letter and colour bar name
  addText(g, p.letter, p.letterX, 139, 135, { bold: true });
  addText(g, "R", p.rX, 190, 133, { italic: true });
  addText(g, p.sub, p.subX, p.subY, p.subSize, { italic: true });

  // x label
  const dx = p.xRange[0] - 339;
  const xl = g.append("g").attr("transform", `translate(${dx},0)`);
  addText(xl, "Δ", 680, 1647, 170);
  addText(xl, "/", 812, 1684, 220);
  addText(xl, "ω", 880, 1648, 145, { italic: true });
  addText(xl, "m", 982, 1675, 128, { italic: true });

  // y label, each part is turned by hand so the subscripts sit like the reference
  const yl = g.append("g").attr("transform", `translate(${dx},0)`);
  const turned = (str, bx, by, size, opts) => addText(yl, str, 0, 0, size, opts).attr("transform", `translate(${bx},${by}) rotate(-90)`);
  turned("G", 122, 1022, 165, { italic: true });
  turned("2", 143, 900, 104, { len: 46 });
  turned("/", 157, 835, 220, {});
  turned("κ", 120, 752, 130, { italic: true });
  turned("m", 142, 672, 128, { italic: true });
}

drawPanel({
  id: "a", xRange: [339, 1416], layers: layersA, centre: true,
  guideLines: guideLinesA, guideEllipses: guideEllipsesA,
  barRange: [1029, 1410], barTop: 123, barBottom: 214, barFill: [0, 0], barPad: 51,
  letter: "(a)", letterX: 103, rX: 805, sub: "f", subX: 905, subY: 204, subSize: 90
});
drawPanel({
  id: "b", xRange: [1912, 2987], layers: layersB, centre: false,
  guideLines: guideLinesB, guideEllipses: guideEllipsesB,
  barRange: [2630, 2966], barTop: 132, barBottom: 217, barFill: [2, 3], barPad: 53,
  letter: "(b)", letterX: 1682, rX: 2386, sub: "b", subX: 2479, subY: 207, subSize: 94
});
</script>
</body>
</html>
